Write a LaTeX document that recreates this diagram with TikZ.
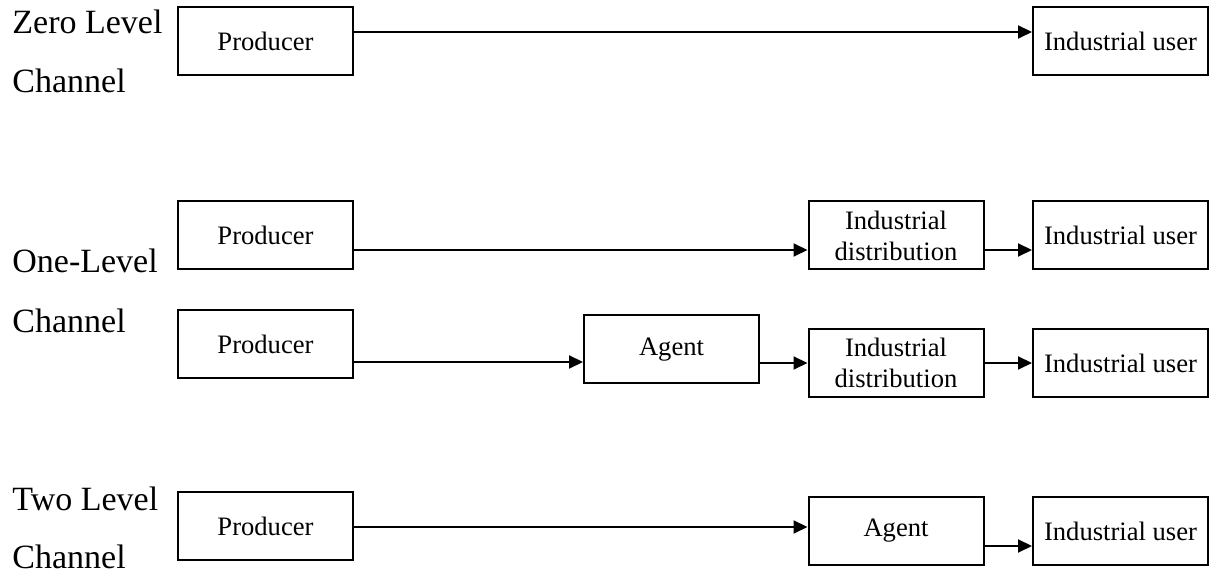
\documentclass[tikz,border=0pt]{standalone}
\usepackage{fontspec}
\setmainfont{Liberation Serif}
\usetikzlibrary{arrows.meta}
\begin{document}
\begin{tikzpicture}[x=0.5pt,y=-0.5pt,
  chanbox/.style={draw,line width=1pt,minimum width=87.5pt,minimum height=34pt,
    inner sep=0pt,align=center,font=\fontsize{13.3}{15.5}\selectfont},
  chanlabel/.style={anchor=base west,inner sep=0pt,font=\fontsize{17}{20}\selectfont},
  flow/.style={line width=1pt,-{Triangle[length=7pt,width=6.5pt]}}]
\useasboundingbox (0,0) rectangle (1216,576);

% level labels
\node[chanlabel] (z1) at (12,34) {Zero Level};
\node[chanlabel] (z2) at (12,93) {Channel};
\node[chanlabel] (o1) at (12,273) {One-Level};
\node[chanlabel] (o2) at (12,333) {Channel};
\node[chanlabel] (t1) at (12,511) {Two Level};
\node[chanlabel] (t2) at (12,569) {Channel};

% zero level
\node[chanbox] (P1) at (265.5,41) {Producer};
\node[chanbox] (U1) at (1120.5,41) {Industrial user};

% one level, direct distributor
\node[chanbox] (P2) at (265.5,235.5) {Producer};
\node[chanbox] (D2) at (896,235.5) {Industrial\\distribution};
\node[chanbox] (U2) at (1120.5,235.5) {Industrial user};

% one level, via agent
\node[chanbox] (P3) at (265.5,344.5) {Producer};
\node[chanbox] (A3) at (671.5,349.5) {Agent};
\node[chanbox] (D3) at (896,363) {Industrial\\distribution};
\node[chanbox] (U3) at (1120.5,363) {Industrial user};

% two level
\node[chanbox] (P4) at (265.5,526) {Producer};
\node[chanbox] (A4) at (896,531) {Agent};
\node[chanbox] (U4) at (1120.5,531) {Industrial user};

% connectors
\draw[flow] (P1.east |- 0,32) -- (U1.west |- 0,32);

\draw[flow] (P2.east |- 0,250) -- (D2.west |- 0,250);
\draw[flow] (D2.east |- 0,250) -- (U2.west |- 0,250);

\draw[flow] (P3.east |- 0,362) -- (A3.west |- 0,362);
\draw[flow] (A3.east |- 0,363) -- (D3.west |- 0,363);
\draw[flow] (D3.east |- 0,363) -- (U3.west |- 0,363);

\draw[flow] (P4.east |- 0,527) -- (A4.west |- 0,527);
\draw[flow] (A4.east |- 0,546) -- (U4.west |- 0,546);
\end{tikzpicture}
\end{document}
